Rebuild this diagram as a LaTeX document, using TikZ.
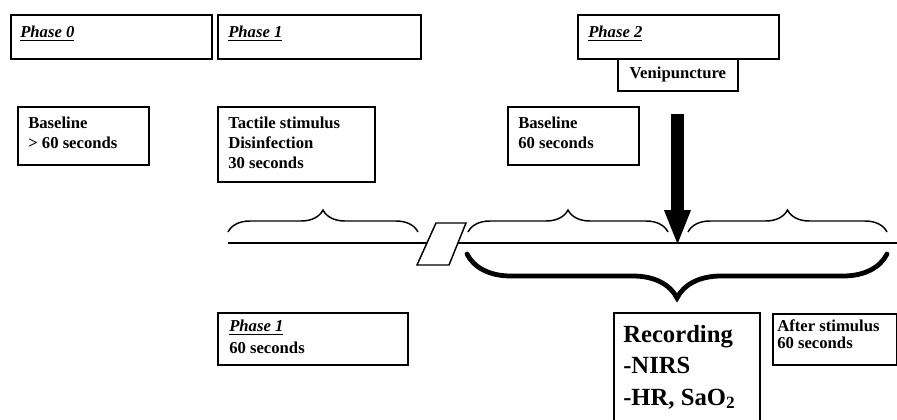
\documentclass[tikz,border=0pt]{standalone}
\usepackage{fontspec}
\setmainfont{Liberation Serif}
\usetikzlibrary{decorations.pathreplacing,arrows.meta}
\begin{document}
\begin{tikzpicture}[x=0.75pt,y=-0.75pt,
  box/.style={draw, line width=1.7pt, inner sep=0pt, anchor=north west},
  thinbox/.style={draw, line width=1.3pt, inner sep=0pt, anchor=north west},
  txt/.style={anchor=north west, inner sep=0pt, align=left, font=\fontsize{12.5}{15}\selectfont\bfseries},
  bigtxt/.style={anchor=north west, inner sep=0pt, align=left, font=\fontsize{18.5}{23.5}\selectfont\bfseries},
  smallbrace/.style={decorate, decoration={brace, amplitude=16.5pt}, line width=1.1pt},
  bigbrace/.style={decorate, decoration={brace, amplitude=33pt}, line width=3.6pt, line cap=round},
  timeline/.style={line width=1.1pt},
  gap/.style={draw, fill=white, line width=1.1pt}]
\clip (0,0) rectangle (897,419);
\fill[white] (0,0) rectangle (897,419);

% top phase boxes
\node[box, minimum width=150.75pt, minimum height=33pt] (p0) at (10,14) {};
\node[box, minimum width=152.25pt, minimum height=33pt] (p1) at (217,14) {};
\node[box, minimum width=150.75pt, minimum height=33pt] (p2) at (577,14) {};
\path (p0.north west) ++(10,12) node[txt] (p0t) {\underline{\textit{Phase 0}}};
\path (p1.north west) ++(11,12) node[txt] (p1t) {\underline{\textit{Phase 1}}};
\path (p2.north west) ++(11,12) node[txt] (p2t) {\underline{\textit{Phase 2}}};
\node[thinbox, minimum width=90pt, minimum height=24pt, font=\fontsize{12.5}{15}\selectfont\bfseries] (veni) at (617,58) {Venipuncture};

% second row boxes
\node[box, minimum width=98.25pt, minimum height=43.5pt] (b0) at (17,106) {};
\path (b0.north west) ++(11,11) node[txt] (b0t) {Baseline\\> 60 seconds};
\node[box, minimum width=117.75pt, minimum height=56.25pt] (ts) at (217,106) {};
\path (ts.north west) ++(11,11) node[txt] (tst) {Tactile stimulus\\Disinfection\\30 seconds};
\node[box, minimum width=98.25pt, minimum height=43.5pt] (b2) at (507,106) {};
\path (b2.north west) ++(11,11) node[txt] (b2t) {Baseline\\60 seconds};

% timeline
\coordinate (t0) at (228,243);
\coordinate (tg1) at (430,243);
\coordinate (tg2) at (455,243);
\coordinate (t1) at (897,243);
\draw[timeline] (t0) -- (tg1);
\draw[timeline] (tg2) -- (t1);
\draw[gap] (417,265) -- (436,223) -- (466,223) -- (449,265) -- cycle;

% small braces
\coordinate (s1a) at (228,232); \coordinate (s1b) at (418,232);
\coordinate (s2a) at (468,232); \coordinate (s2b) at (668,232);
\coordinate (s3a) at (688,232); \coordinate (s3b) at (887,232);
\draw[smallbrace] (s1a) -- (s1b);
\draw[smallbrace] (s2a) -- (s2b);
\draw[smallbrace] (s3a) -- (s3b);

% big brace
\coordinate (bba) at (887,254); \coordinate (bbb) at (467,254);
\draw[bigbrace] (bba) -- (bbb);

% venipuncture arrow
\coordinate (atop) at (677.5,114);
\coordinate (atip) at (677.5,246);
\draw[line width=9.75pt, -{Triangle[length=27pt, width=18pt]}] (atop) -- (atip);

% bottom boxes
\node[box, minimum width=142.5pt, minimum height=39pt] (p1b) at (217,312) {};
\path (p1b.north west) ++(12,8) node[txt, font=\fontsize{12.5}{16}\selectfont\bfseries] (p1bt) {\underline{\textit{Phase 1}}\\60 seconds};
\node[box, minimum width=109.5pt, minimum height=90pt] (rec) at (613,312) {};
\path (rec.north west) ++(10,13) node[bigtxt] (rect) {Recording\\-NIRS\\-HR, SaO\textsubscript{2}};
\node[box, minimum width=93pt, minimum height=38.25pt] (aft) at (772,313) {};
\path (aft.north west) ++(5,6) node[txt, font=\fontsize{12.5}{13}\selectfont\bfseries] (aftt) {After stimulus\\60 seconds};
\end{tikzpicture}
\end{document}
